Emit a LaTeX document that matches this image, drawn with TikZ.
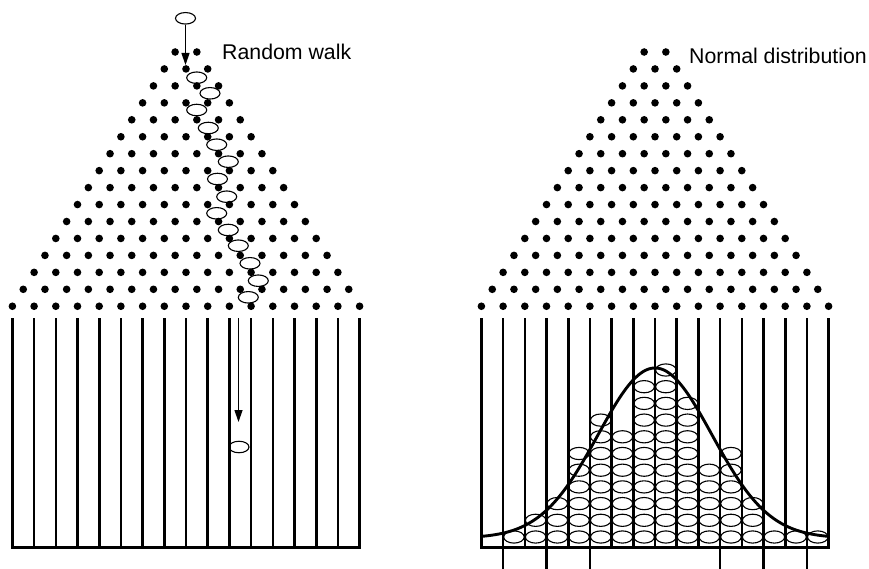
\documentclass[tikz,border=0pt]{standalone}
\usepackage{fontspec}
\setmainfont{Liberation Sans}
\usetikzlibrary{shapes.geometric,arrows.meta}
\begin{document}
\begin{tikzpicture}[x=1pt,y=-1pt,
  peg/.style={circle,fill=black,inner sep=0pt,minimum size=7.6pt},
  ball/.style={ellipse,draw,line width=1.1pt,inner sep=0pt,minimum width=20pt,minimum height=11.5pt},
  binball/.style={ellipse,draw,line width=1.1pt,inner sep=0pt,minimum width=20.5pt,minimum height=12.2pt},
  wall/.style={line width=2.6pt},
  walk/.style={line width=1.2pt,-{Triangle[length=12pt,width=8pt]}},
  lbl/.style={font=\fontsize{21.3}{25}\selectfont,inner sep=0pt,anchor=base west}]
\useasboundingbox (0,0) rectangle (869,569);

% pegs
\foreach \side/\c in {L/186,R/655}{
  \foreach \k in {0,...,15}{
    \pgfmathtruncatemacro\n{\k+1}
    \foreach \j in {0,...,\n}{
      \node[peg] (peg\side-\k-\j) at ({\c+(\j-(\k+1)/2)*21.7},{52+16.95*\k}) {};
    }
  }
}

% bins: balls on the right
\foreach \b/\cnt in {1/1,2/2,3/3,4/6,5/8,6/7,7/10,8/11,9/9,10/5,11/6,12/3,13/1,14/1,15/1}{
  \foreach \r in {1,...,\cnt}{
    \node[binball] (bb-\b-\r) at ({481.4+21.7*(\b+0.5)},{537-16.7*(\r-1)}) {};
  }
}

% walls
\foreach \j in {0,...,16}{
  \coordinate (LT\j) at ({12.4+21.7*\j},318);
  \coordinate (LB\j) at ({12.4+21.7*\j},547.5);
  \draw[wall] (LT\j) -- (LB\j);
  \coordinate (RT\j) at ({481.4+21.7*\j},318);
  \coordinate (RB\j) at ({481.4+21.7*\j},547.5);
  \draw[wall] (RT\j) -- (RB\j);
}
\draw[wall,line cap=rect] (LB0) -- (LB16);
\draw[wall,line cap=rect] (RB0) -- (RB16);
\foreach \j in {1,3,5,11,13,15}{
  \coordinate (RE\j) at ({481.4+21.7*\j},569);
  \draw[wall] (RB\j) -- (RE\j);
}

% normal curve
\draw[line width=2.9pt] plot[domain=481.4:828.6,samples=140,smooth]
  (\x,{538-170*exp(0-0.5*((\x-655)/57)*((\x-655)/57))});

% random walk
\node[ball] (top) at (185.5,18.3) {};
\coordinate (hit) at (185.5,65);
\draw[walk] (top) -- (hit);
\foreach \i/\x/\y in {1/196.7/77.7, 2/210/93.3, 3/196.7/110, 4/208.3/128, 5/216.7/144.7,
  6/228.3/161.7, 7/217.5/179, 8/226.7/196.7, 9/216.7/213.3, 10/228.3/230,
  11/238.3/245.7, 12/250/263.3, 13/258.3/280.7, 14/248.3/297.3}{
  \node[ball] (w\i) at (\x,\y) {};
}
\coordinate (fallS) at (238.5,318);
\coordinate (fallE) at (238.5,422);
\draw[walk] (fallS) -- (fallE);
\node[ball] (land) at (239,447) {};

% labels
\node[lbl] (rw) at (222,60) {Random walk};
\node[lbl] (nd) at (689,63.3) {Normal distribution};
\end{tikzpicture}
\end{document}
